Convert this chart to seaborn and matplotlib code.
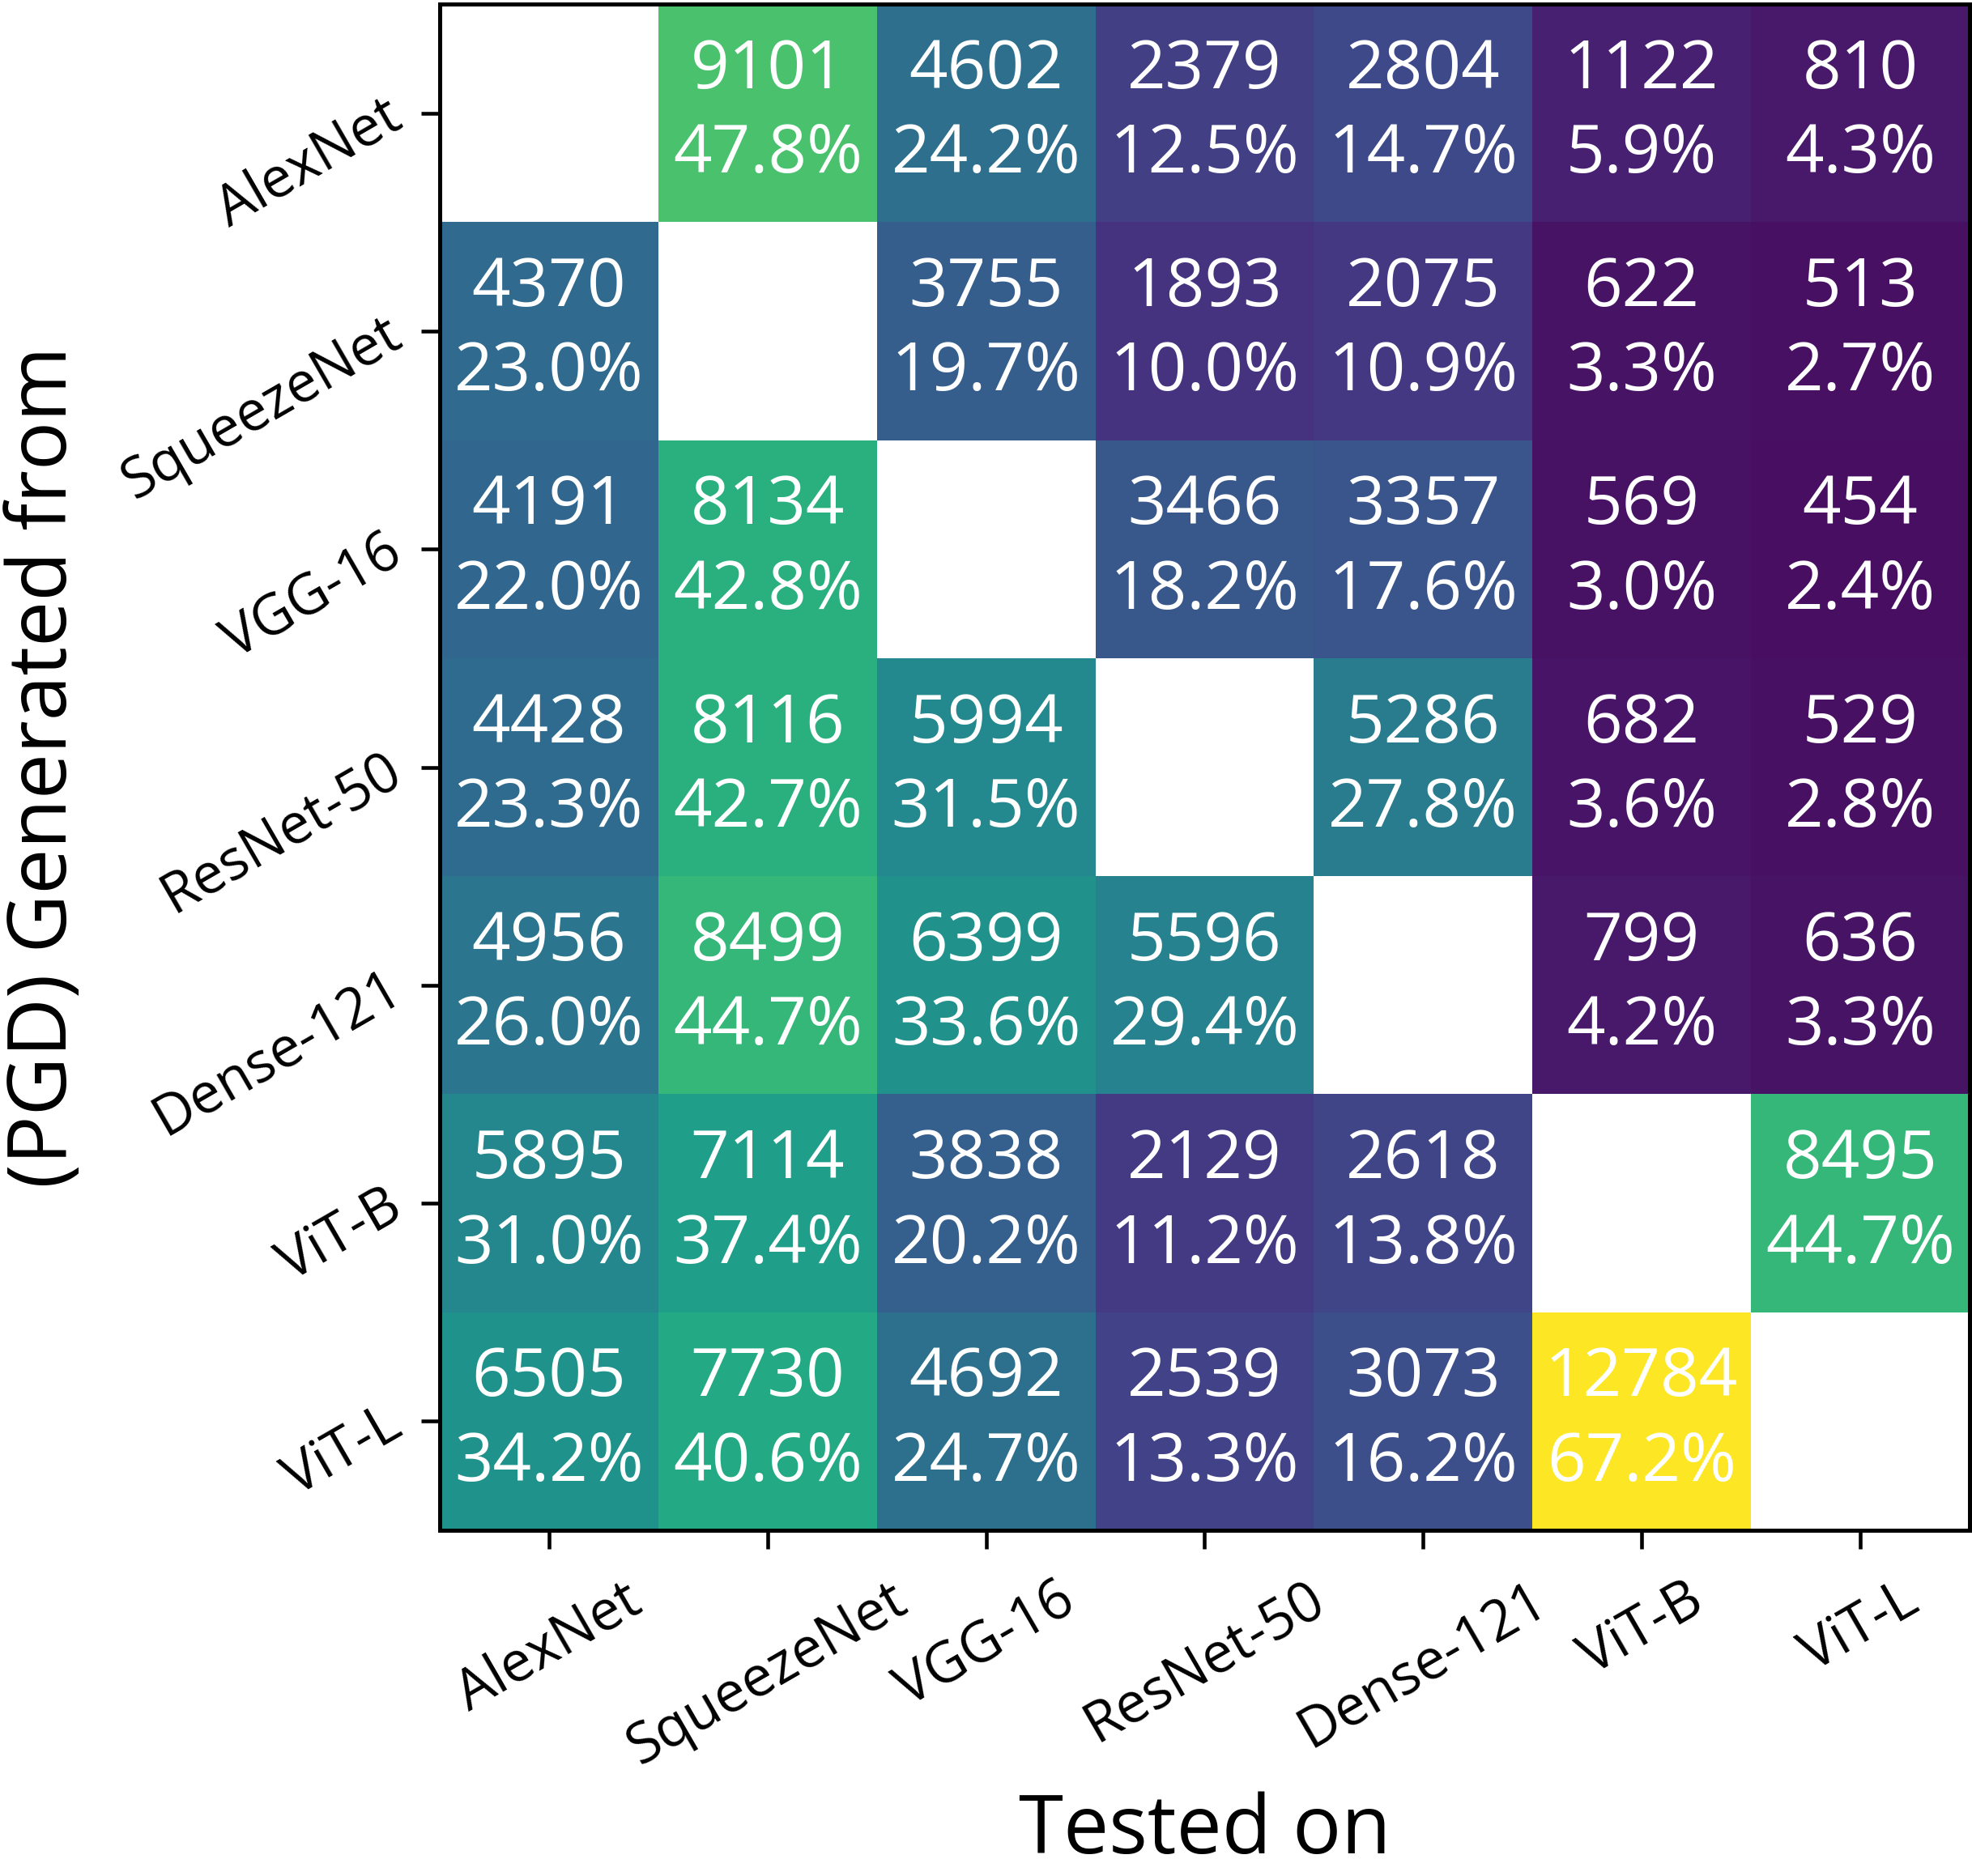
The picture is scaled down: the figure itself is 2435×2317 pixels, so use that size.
import numpy as np
import pandas as pd
import seaborn as sns
import matplotlib.pyplot as plt

models = ['AlexNet', 'SqueezeNet', 'VGG-16', 'ResNet-50', 'Dense-121', 'ViT-B', 'ViT-L']

# rows: generated from, cols: tested on (diagonal left empty)
counts = [
    [np.nan, 9101, 4602, 2379, 2804, 1122, 810],
    [4370, np.nan, 3755, 1893, 2075, 622, 513],
    [4191, 8134, np.nan, 3466, 3357, 569, 454],
    [4428, 8116, 5994, np.nan, 5286, 682, 529],
    [4956, 8499, 6399, 5596, np.nan, 799, 636],
    [5895, 7114, 3838, 2129, 2618, np.nan, 8495],
    [6505, 7730, 4692, 2539, 3073, 12784, np.nan],
]
percents = [
    [np.nan, 47.8, 24.2, 12.5, 14.7, 5.9, 4.3],
    [23.0, np.nan, 19.7, 10.0, 10.9, 3.3, 2.7],
    [22.0, 42.8, np.nan, 18.2, 17.6, 3.0, 2.4],
    [23.3, 42.7, 31.5, np.nan, 27.8, 3.6, 2.8],
    [26.0, 44.7, 33.6, 29.4, np.nan, 4.2, 3.3],
    [31.0, 37.4, 20.2, 11.2, 13.8, np.nan, 44.7],
    [34.2, 40.6, 24.7, 13.3, 16.2, 67.2, np.nan],
]

df = pd.DataFrame(counts, index=models, columns=models)
pct = pd.DataFrame(percents, index=models, columns=models)

labels = np.empty(df.shape, dtype=object)
for i in range(df.shape[0]):
    for j in range(df.shape[1]):
        if np.isnan(df.iloc[i, j]):
            labels[i, j] = ''
        else:
            labels[i, j] = f"{int(df.iloc[i, j])}\n{pct.iloc[i, j]:.1f}%"

sns.set_style('ticks')
plt.rcParams['font.family'] = ['Open Sans', 'DejaVu Sans']
plt.rcParams['text.color'] = 'black'
plt.rcParams['axes.labelcolor'] = 'black'
plt.rcParams['xtick.color'] = 'black'
plt.rcParams['ytick.color'] = 'black'

fig = plt.figure(figsize=(2435 / 300, 2317 / 300), dpi=300)
ax = fig.add_axes([0.223, 0.1843, 0.7757, 0.8135])

sns.heatmap(df, mask=df.isna(), annot=labels, fmt='', cmap='viridis',
            vmin=0, vmax=np.nanmax(df.values), cbar=False, ax=ax,
            annot_kws={'size': 20, 'color': 'white', 'linespacing': 1.35})

for s in ax.spines.values():
    s.set_visible(True)
    s.set_linewidth(1.2)
    s.set_color('black')

ax.tick_params(axis='both', length=5.5, width=1.1, colors='black', labelsize=16.5, pad=7)
ax.set_xticklabels(models, rotation=30, ha='center')
ax.set_yticklabels(models, rotation=30, ha='right', va='center', rotation_mode='anchor')

ax.set_xlabel('Tested on', fontsize=24, labelpad=4, color='black')
ax.set_ylabel('(PGD) Generated from', fontsize=24, labelpad=8, color='black')

fig.savefig('out.png', dpi=300)
